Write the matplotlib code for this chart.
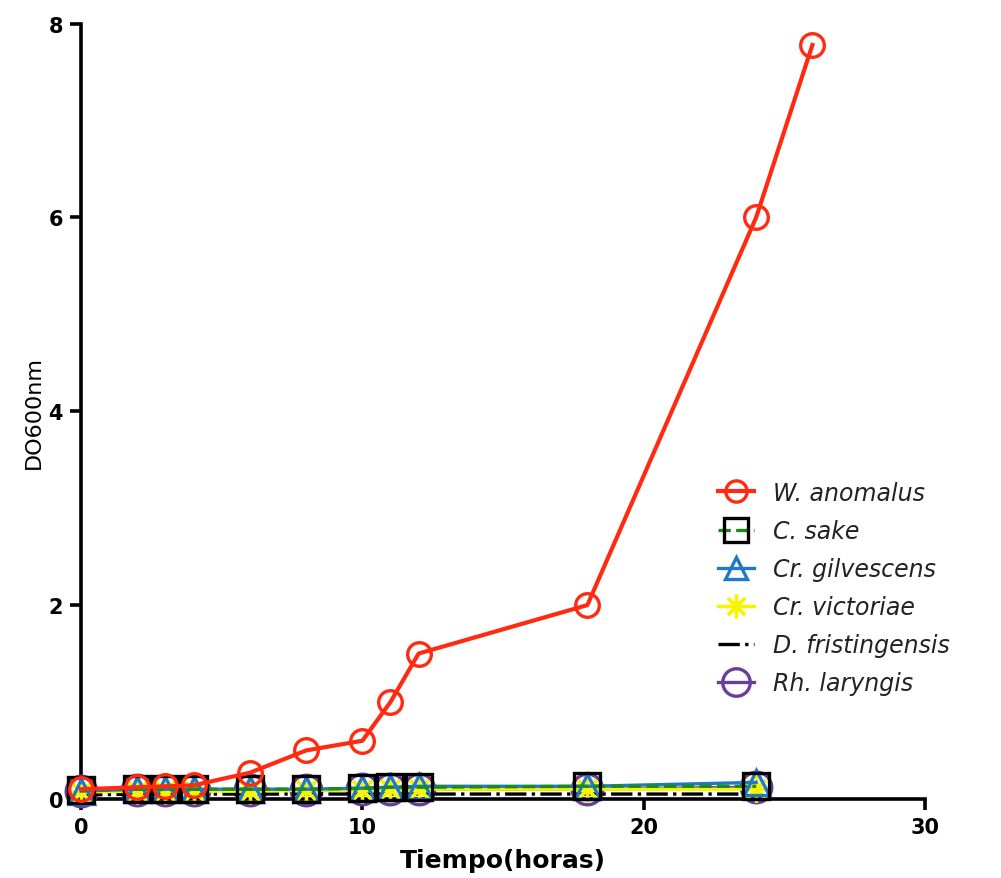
import matplotlib

matplotlib.use("Agg")
import matplotlib.pyplot as plt

plt.rcParams["font.family"] = ["DejaVu Sans"]

# time points (hours)
t_anom = [0, 2, 3, 4, 6, 8, 10, 11, 12, 18, 24, 26]
t_rest = [0, 2, 3, 4, 6, 8, 10, 11, 12, 18, 24]

w_anomalus = [0.10, 0.12, 0.13, 0.14, 0.27, 0.50, 0.60, 1.00, 1.50, 2.00, 6.00, 7.78]
c_sake = [0.09, 0.10, 0.10, 0.10, 0.10, 0.10, 0.11, 0.12, 0.12, 0.13, 0.13]
cr_gilvescens = [0.08, 0.10, 0.10, 0.10, 0.10, 0.10, 0.11, 0.12, 0.13, 0.13, 0.17]
cr_victoriae = [0.07, 0.08, 0.08, 0.08, 0.08, 0.09, 0.09, 0.10, 0.10, 0.10, 0.10]
d_fristingensis = [0.04, 0.05, 0.05, 0.05, 0.05, 0.05, 0.05, 0.05, 0.05, 0.05, 0.05]
rh_laryngis = [0.08, 0.09, 0.09, 0.09, 0.09, 0.09, 0.10, 0.10, 0.10, 0.10, 0.12]

fig = plt.figure(figsize=(10.01, 8.79), dpi=100)
ax = fig.add_axes([0.081, 0.09, 0.843, 0.882])

common = dict(clip_on=False, markeredgewidth=2.4, linewidth=2.4)

ax.plot(t_rest, rh_laryngis, color="#6a3d9a", marker="o", mfc="none", ms=22,
        label="Rh. laryngis", zorder=3, **common)
ax.plot(t_rest, d_fristingensis, color="black", linestyle="-.", marker="None",
        label="D. fristingensis", zorder=4, clip_on=False, linewidth=2.4)
ax.plot(t_rest, cr_victoriae, color="#f5f500", marker=(8, 2, 0), ms=19,
        label="Cr. victoriae", zorder=5, **common)
ax.plot(t_rest, cr_gilvescens, color="#1f78c8", marker="^", mfc="none", ms=18,
        label="Cr. gilvescens", zorder=6, **common)
ax.plot(t_rest, c_sake, color="#1a8a1a", linestyle="--", marker="s", mfc="none",
        mec="black", ms=19, label="C. sake", zorder=7, **common)
ax.plot(t_anom, w_anomalus, color="#ff2a10", marker="o", mfc="none", ms=17,
        label="W. anomalus", zorder=8, clip_on=False, markeredgewidth=2.4,
        linewidth=3)

ax.set_xlim(0, 30)
ax.set_ylim(0, 8)
ax.set_xticks([0, 10, 20, 30])
ax.set_yticks([0, 2, 4, 6, 8])
for s in ("top", "right"):
    ax.spines[s].set_visible(False)
for s in ("left", "bottom"):
    ax.spines[s].set_linewidth(2.6)
ax.tick_params(width=2.6, length=8, labelsize=15, pad=5)
for lab in ax.get_xticklabels() + ax.get_yticklabels():
    lab.set_fontweight("bold")

ax.set_xlabel("Tiempo(horas)", fontsize=18, fontweight="bold", labelpad=8)
ax.set_ylabel("DO600nm", fontsize=16, labelpad=3)

handles, labels = ax.get_legend_handles_labels()
leg = ax.legend(handles[::-1], labels[::-1], loc="center left",
                bbox_to_anchor=(0.73, 0.272), frameon=False, markerscale=0.9,
                handlelength=1.5, handletextpad=0.8,
                prop=dict(size=17, style="italic"), labelspacing=0.6)
for txt in leg.get_texts():
    txt.set_color("#222222")

fig.savefig("out.png", dpi=100)
